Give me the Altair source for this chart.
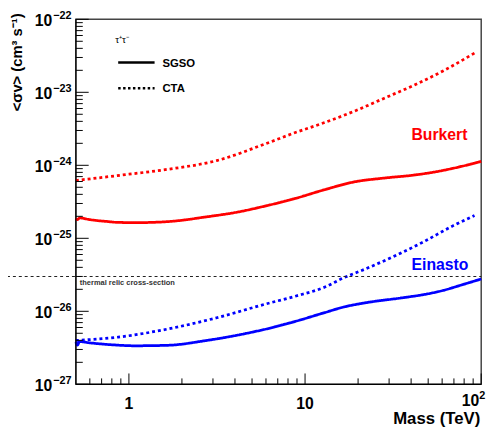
import altair as alt
import pandas as pd

FONT = "Liberation Sans"

# ---- data ----
burkert_sgso_mass = [0.5, 0.51, 0.525, 0.6, 0.75, 0.87, 1.12, 1.65, 2.77, 4.07, 5.99, 8.81, 12.9, 19.0, 28.0, 41.2, 53.3, 69.0, 100]
burkert_sgso_sv = [1.88e-25, 1.80e-25, 1.90e-25, 1.80e-25, 1.70e-25, 1.65e-25, 1.64e-25, 1.69e-25, 1.97e-25, 2.27e-25,
                   2.78e-25, 3.52e-25, 4.63e-25, 5.92e-25, 6.68e-25, 7.33e-25, 8.03e-25, 9.08e-25, 1.13e-24]

burkert_cta_mass = [0.5, 1.0, 1.65, 3.15, 5.99, 8.81, 12.9, 19.0, 28.0, 41.2, 60.7, 91.6]
burkert_cta_sv = [6.19e-25, 7.55e-25, 8.79e-25, 1.16e-24, 1.98e-24, 2.81e-24, 3.85e-24, 5.50e-24, 8.25e-24, 1.24e-23,
                  1.96e-23, 3.44e-23]

einasto_sgso_mass = [0.5, 0.51, 0.525, 0.6, 0.8, 1.08, 1.65, 2.77, 4.62, 6.80, 8.81, 12.9, 16.7, 21.7, 36.3, 46.9, 60.7, 78.5, 100]
einasto_sgso_sv = [3.80e-27, 3.45e-27, 3.85e-27, 3.70e-27, 3.48e-27, 3.37e-27, 3.42e-27, 3.99e-27, 4.97e-27, 6.15e-27,
                   7.28e-27, 9.58e-27, 1.15e-26, 1.30e-26, 1.54e-26, 1.69e-26, 1.93e-26, 2.32e-26, 2.77e-26]

einasto_cta_mass = [0.5, 0.87, 1.65, 3.15, 5.99, 8.81, 12.9, 16.7, 21.7, 31.8, 46.9, 69.0, 91.6]
einasto_cta_sv = [3.99e-27, 4.43e-27, 5.70e-27, 8.15e-27, 1.26e-26, 1.61e-26, 2.14e-26, 2.90e-26, 3.75e-26, 5.63e-26,
                  8.91e-26, 1.48e-25, 2.05e-25]

thermal_relic = 3e-26

y_major = [1e-27, 1e-26, 1e-25, 1e-24, 1e-23, 1e-22]
y_exp = ["\u221227", "\u221226", "\u221225", "\u221224", "\u221223", "\u221222"]
y_minor = [k * d for d in [1e-27, 1e-26, 1e-25, 1e-24, 1e-23] for k in range(2, 10)]

x_major = [1, 10, 100]
x_minor = [0.6, 0.7, 0.8, 0.9, 2, 3, 4, 5, 6, 7, 8, 9, 20, 30, 40, 50, 60, 70, 80, 90]
x_label_vals = [1, 10]
x_label_text = ["1", "10"]

# ---- build table ----
rows = []
for prof, inst, ms, vs in [
    ("Burkert", "SGSO", burkert_sgso_mass, burkert_sgso_sv),
    ("Burkert", "CTA", burkert_cta_mass, burkert_cta_sv),
    ("Einasto", "SGSO", einasto_sgso_mass, einasto_sgso_sv),
    ("Einasto", "CTA", einasto_cta_mass, einasto_cta_sv),
]:
    for m, v in zip(ms, vs):
        rows.append({"mass": m, "sv": v, "profile": prof, "instrument": inst, "series": prof + " " + inst})
df = pd.DataFrame(rows)

xscale = alt.Scale(type="log", domain=[0.5, 100], nice=False)
yscale = alt.Scale(type="log", domain=[1e-27, 1e-22], nice=False)

W, H = 412, 371
TOP = 6  # reference plot top sits this many px above ours

curves = alt.Chart(df).mark_line(strokeWidth=2.8, interpolate="monotone", strokeCap="butt").encode(
    x=alt.X("mass:Q", scale=xscale, axis=None),
    y=alt.Y("sv:Q", scale=yscale, axis=None),
    color=alt.Color("profile:N", scale=alt.Scale(domain=["Burkert", "Einasto"], range=["#ff0000", "#0000ff"]),
                    legend=None),
    strokeDash=alt.StrokeDash("instrument:N", scale=alt.Scale(domain=["SGSO", "CTA"], range=[[1, 0], [3, 3]]),
                              legend=None),
    detail="series:N",
)

one = pd.DataFrame({"a": [0]})

# axis lines (left / bottom black)
left_line = alt.Chart(one).mark_rule(color="black", strokeWidth=1.2).encode(
    x=alt.value(0), y=alt.value(0), y2=alt.value(H))
bottom_line = alt.Chart(one).mark_rule(color="black", strokeWidth=1.2).encode(
    x=alt.value(0), x2=alt.value(W), y=alt.value(H))

# axis titles
ytitle = alt.Chart(one).mark_text(align="right", baseline="middle", angle=270, font=FONT, fontSize=15,
                                  fontWeight="bold", color="black", text="<σv> (cm³ s⁻¹)").encode(
    x=alt.value(-60), y=alt.value(-TOP))
xtitle = alt.Chart(one).mark_text(align="right", baseline="alphabetic", font=FONT, fontSize=17,
                                  fontWeight="bold", color="black", text="Mass (TeV)").encode(
    x=alt.value(W - 1), y=alt.value(H + 40))

# thermal relic line
thermal = alt.Chart(pd.DataFrame({"v": [thermal_relic]})).mark_rule(
    color="#222222", strokeWidth=1.2, strokeDash=[3, 3]).encode(
    y=alt.Y("v:Q", scale=yscale, axis=None), x=alt.value(-70), x2=alt.value(W))
thermal_text = alt.Chart(pd.DataFrame({"v": [thermal_relic]})).mark_text(
    align="left", baseline="middle", font=FONT, fontSize=7.6, fontWeight="bold", color="#333333", dy=7,
    text="thermal relic cross-section").encode(
    y=alt.Y("v:Q", scale=yscale, axis=None), x=alt.value(4))

# inward ticks
ymaj = alt.Chart(pd.DataFrame({"v": y_major})).mark_rule(color="black", strokeWidth=1).encode(
    y=alt.Y("v:Q", scale=yscale, axis=None), x=alt.value(0), x2=alt.value(13))
ymin = alt.Chart(pd.DataFrame({"v": y_minor})).mark_rule(color="black", strokeWidth=1).encode(
    y=alt.Y("v:Q", scale=yscale, axis=None), x=alt.value(0), x2=alt.value(7))
xmaj = alt.Chart(pd.DataFrame({"m": x_major})).mark_rule(color="black", strokeWidth=1).encode(
    x=alt.X("m:Q", scale=xscale, axis=None), y=alt.value(H), y2=alt.value(H - 11))
xmin = alt.Chart(pd.DataFrame({"m": x_minor})).mark_rule(color="black", strokeWidth=1).encode(
    x=alt.X("m:Q", scale=xscale, axis=None), y=alt.value(H), y2=alt.value(H - 6))

# tick labels
ydf = pd.DataFrame({"v": y_major, "base": ["10"] * len(y_major), "exp": y_exp})
ylab = alt.Chart(ydf).mark_text(align="right", baseline="middle", font=FONT, fontSize=16, fontWeight="bold",
                                color="black", dy=2).encode(
    y=alt.Y("v:Q", scale=yscale, axis=None), x=alt.value(-24), text="base:N")
yexp = alt.Chart(ydf).mark_text(align="left", baseline="alphabetic", font=FONT, fontSize=11, fontWeight="bold",
                                color="black", dy=0).encode(
    y=alt.Y("v:Q", scale=yscale, axis=None), x=alt.value(-23), text="exp:N")

xdf = pd.DataFrame({"m": x_label_vals, "t": x_label_text})
xlab = alt.Chart(xdf).mark_text(align="center", baseline="alphabetic", font=FONT, fontSize=16, fontWeight="bold",
                                color="black").encode(
    x=alt.X("m:Q", scale=xscale, axis=None), y=alt.value(H + 25), text="t:N")
x100 = alt.Chart(pd.DataFrame({"m": [100], "t": ["10"], "e": ["2"]}))
x100_base = x100.mark_text(align="right", baseline="alphabetic", font=FONT, fontSize=16, fontWeight="bold",
                           color="black", dx=-2).encode(
    x=alt.X("m:Q", scale=xscale, axis=None), y=alt.value(H + 22), text="t:N")
x100_exp = x100.mark_text(align="left", baseline="alphabetic", font=FONT, fontSize=11, fontWeight="bold",
                          color="black", dx=-2).encode(
    x=alt.X("m:Q", scale=xscale, axis=None), y=alt.value(H + 15), text="e:N")

# profile labels
burkert_lbl = alt.Chart(one).mark_text(align="right", baseline="alphabetic", font=FONT, fontSize=16,
                                       fontWeight="bold", color="#ff0000", text="Burkert").encode(
    x=alt.value(398), y=alt.value(129 - TOP))
einasto_lbl = alt.Chart(one).mark_text(align="right", baseline="alphabetic", font=FONT, fontSize=16,
                                       fontWeight="bold", color="#0000ff", text="Einasto").encode(
    x=alt.value(399), y=alt.value(261 - TOP))

# legend
leg_title = alt.Chart(one).mark_text(align="left", baseline="middle", font=FONT, fontSize=10, color="black",
                                     text="τ⁺τ⁻").encode(x=alt.value(40), y=alt.value(27 - TOP))
leg_solid = alt.Chart(one).mark_rule(color="black", strokeWidth=2.5).encode(
    x=alt.value(43), x2=alt.value(80), y=alt.value(50 - TOP))
leg_dot = alt.Chart(one).mark_rule(color="black", strokeWidth=2.5, strokeDash=[2.5, 2.5]).encode(
    x=alt.value(43), x2=alt.value(80), y=alt.value(76 - TOP))
leg_sgso = alt.Chart(one).mark_text(align="left", baseline="middle", font=FONT, fontSize=11.5, fontWeight="bold",
                                    color="black", text="SGSO").encode(x=alt.value(88), y=alt.value(51 - TOP))
leg_cta = alt.Chart(one).mark_text(align="left", baseline="middle", font=FONT, fontSize=11.5, fontWeight="bold",
                                   color="black", text="CTA").encode(x=alt.value(88), y=alt.value(77 - TOP))

chart = alt.layer(
    curves, thermal, thermal_text, ymaj, ymin, xmaj, xmin, left_line, bottom_line, ytitle, xtitle,
    ylab, yexp, xlab, x100_base, x100_exp,
    burkert_lbl, einasto_lbl, leg_title, leg_solid, leg_dot, leg_sgso, leg_cta,
).properties(
    width=W, height=H, autosize="none",
    padding={"left": 69, "top": 8, "right": 13, "bottom": 45},
    background="white",
).configure_view(stroke="#444444", strokeWidth=1.5)

chart.save("out.html", embed_options={"renderer": "svg", "actions": False})
